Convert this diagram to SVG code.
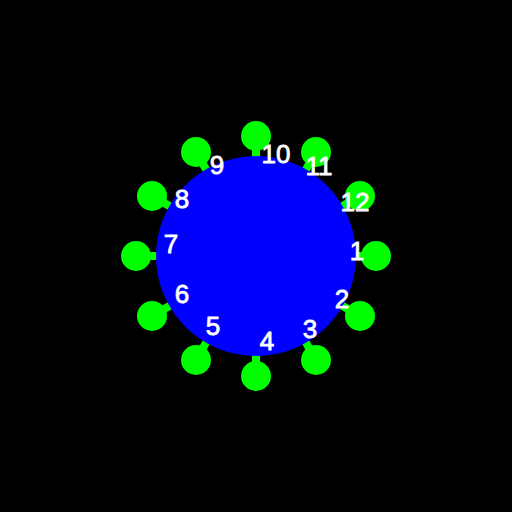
<svg xmlns="http://www.w3.org/2000/svg" width="512" height="512" viewBox="0 0 512 512">
<style>
.bg{fill:#000}
.hub{fill:#0000ff}
.sat{fill:#00ff00}
.conn line{stroke:#00ff00;stroke-width:8}
.lbl{fill:#fff;stroke:#fff;stroke-width:0.8;font-family:"Liberation Sans",Arial,sans-serif;font-size:26px;text-anchor:middle}
</style>
<rect class="bg" x="0" y="0" width="512" height="512"/>
<g id="connectors" class="conn">
<line x1="256" y1="256" x2="376" y2="256"/>
<line x1="256" y1="256" x2="360" y2="316"/>
<line x1="256" y1="256" x2="316" y2="360"/>
<line x1="256" y1="256" x2="256" y2="376"/>
<line x1="256" y1="256" x2="196" y2="360"/>
<line x1="256" y1="256" x2="152" y2="316"/>
<line x1="256" y1="256" x2="136" y2="256"/>
<line x1="256" y1="256" x2="152" y2="196"/>
<line x1="256" y1="256" x2="196" y2="152"/>
<line x1="256" y1="256" x2="256" y2="136"/>
<line x1="256" y1="256" x2="316" y2="152"/>
<line x1="256" y1="256" x2="360" y2="196"/>
</g>
<g id="n1"><circle class="sat" cx="376" cy="256" r="15"/></g>
<g id="n2"><circle class="sat" cx="360" cy="316" r="15"/></g>
<g id="n3"><circle class="sat" cx="316" cy="360" r="15"/></g>
<g id="n4"><circle class="sat" cx="256" cy="376" r="15"/></g>
<g id="n5"><circle class="sat" cx="196" cy="360" r="15"/></g>
<g id="n6"><circle class="sat" cx="152" cy="316" r="15"/></g>
<g id="n7"><circle class="sat" cx="136" cy="256" r="15"/></g>
<g id="n8"><circle class="sat" cx="152" cy="196" r="15"/></g>
<g id="n9"><circle class="sat" cx="196" cy="152" r="15"/></g>
<g id="n10"><circle class="sat" cx="256" cy="136" r="15"/></g>
<g id="n11"><circle class="sat" cx="316" cy="152" r="15"/></g>
<g id="n12"><circle class="sat" cx="360" cy="196" r="15"/></g>
<g id="hub"><circle class="hub" cx="256" cy="256" r="100"/></g>
<g id="labels">
<text class="lbl" x="357" y="260">1</text>
<text class="lbl" x="342" y="308">2</text>
<text class="lbl" x="310" y="338">3</text>
<text class="lbl" x="267" y="350">4</text>
<text class="lbl" x="213" y="335">5</text>
<text class="lbl" x="182" y="303">6</text>
<text class="lbl" x="171" y="253">7</text>
<text class="lbl" x="182" y="208">8</text>
<text class="lbl" x="217" y="174">9</text>
<text class="lbl" x="276" y="163">10</text>
<text class="lbl" x="319" y="175">11</text>
<text class="lbl" x="355" y="211">12</text>
</g>
</svg>
